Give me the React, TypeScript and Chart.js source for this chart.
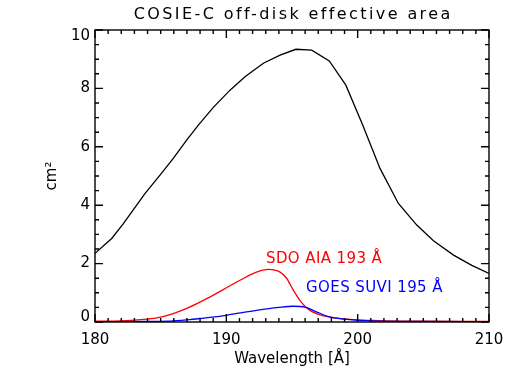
import React, { useEffect, useRef } from "react";
import { Chart, registerables } from "chart.js";

Chart.register(...registerables);

// COSIE-C off-disk effective area (cm^2) vs wavelength (Å)
const blackX = [180, 181.27, 182.16, 182.9, 183.8, 184.95, 185.96, 186.98, 187.87, 189.01, 190.28, 191.42, 192.82, 194.09, 195.3, 196.5, 197.84, 199.1, 200.39, 201.7, 203.1, 204.5, 205.77, 207.3, 208.69, 210];
const blackY = [2.35, 2.86, 3.37, 3.83, 4.4, 5.03, 5.6, 6.23, 6.74, 7.35, 7.94, 8.4, 8.86, 9.14, 9.34, 9.31, 8.94, 8.11, 6.74, 5.26, 4.06, 3.32, 2.78, 2.29, 1.94, 1.66];

// SDO AIA 193 Å
const redX = [180, 182, 183.5, 184.7, 185.96, 187.2, 188.5, 189.77, 191.04, 192.3, 193.2, 194.09, 194.6, 195.1, 195.6, 196.1, 196.6, 197.4, 198.15, 199.7, 201.5, 205, 210];
const redY = [0.03, 0.04, 0.08, 0.14, 0.29, 0.51, 0.8, 1.11, 1.43, 1.71, 1.8, 1.71, 1.49, 1.09, 0.74, 0.49, 0.34, 0.21, 0.15, 0.08, 0.05, 0.03, 0.02];

// GOES SUVI 195 Å
const blueX = [180, 184, 186, 187.2, 188, 190, 192.3, 194, 195.1, 196, 196.9, 197.9, 199.2, 201, 205, 210];
const blueY = [0.01, 0.02, 0.04, 0.08, 0.12, 0.23, 0.4, 0.5, 0.54, 0.51, 0.34, 0.17, 0.09, 0.04, 0.02, 0.01];

const xMin = 180;
const xMax = 210;
const xStep = 10;
const xMinorStep = 1;
const yMin = 0;
const yMax = 10;
const yStep = 2;
const yMinorStep = 0.5;

const titleText = "COSIE-C off-disk effective area";
const xLabel = "Wavelength [Å]";
const yLabel = "cm²";
const labelAIA = "SDO AIA 193 Å";
const labelAIAPos = [193.02, 2.17];
const labelSUVI = "GOES SUVI 195 Å";
const labelSUVIPos = [196.07, 1.15];

const FONT = '"DejaVu Sans", sans-serif';

function pts(xs: number[], ys: number[]) {
  return xs.map((x, i) => ({ x, y: ys[i] }));
}

const decorPlugin = {
  id: "decor",
  afterDraw(chart: any) {
    const ctx: CanvasRenderingContext2D = chart.ctx;
    const area = chart.chartArea;
    const xs = chart.scales.x;
    const ys = chart.scales.y;
    ctx.save();
    ctx.strokeStyle = "#000";
    ctx.lineWidth = 1.4;
    ctx.strokeRect(area.left, area.top, area.right - area.left, area.bottom - area.top);

    const major = 8;
    const minor = 4;
    ctx.beginPath();
    for (let v = xMin; v <= xMax + 1e-9; v += xMinorStep) {
      const isMajor = Math.abs(((v - xMin) / xStep) - Math.round((v - xMin) / xStep)) < 1e-6;
      const len = isMajor ? major : minor;
      const px = xs.getPixelForValue(v);
      ctx.moveTo(px, area.bottom);
      ctx.lineTo(px, area.bottom - len);
      ctx.moveTo(px, area.top);
      ctx.lineTo(px, area.top + len);
    }
    for (let v = yMin; v <= yMax + 1e-9; v += yMinorStep) {
      const isMajor = Math.abs(((v - yMin) / yStep) - Math.round((v - yMin) / yStep)) < 1e-6;
      const len = isMajor ? major : minor;
      const py = ys.getPixelForValue(v);
      ctx.moveTo(area.left, py);
      ctx.lineTo(area.left + len, py);
      ctx.moveTo(area.right, py);
      ctx.lineTo(area.right - len, py);
    }
    ctx.stroke();

    ctx.fillStyle = "#000";
    ctx.font = `15px ${FONT}`;
    ctx.textBaseline = "middle";
    // x tick labels
    ctx.textAlign = "center";
    for (const t of xs.ticks) {
      ctx.fillText(String(t.value), xs.getPixelForValue(t.value), area.bottom + 18.5);
    }
    // y tick labels
    ctx.textAlign = "right";
    for (const t of ys.ticks) {
      let py = ys.getPixelForValue(t.value);
      py = Math.min(Math.max(py, area.top + 5.7), area.bottom - 5.3);
      ctx.fillText(String(t.value), area.left - 5, py);
    }
    // x axis title
    ctx.textAlign = "center";
    ctx.fillText(xLabel, (area.left + area.right) / 2, area.bottom + 37.5);
    // y axis title
    ctx.save();
    ctx.translate(area.left - 43, (area.top + area.bottom) / 2);
    ctx.rotate(-Math.PI / 2);
    ctx.fillText(yLabel, 0, 0);
    ctx.restore();
    // title
    ctx.font = `16px ${FONT}`;
    (ctx as any).letterSpacing = "2.4px";
    ctx.fillText(titleText, (area.left + area.right) / 2 + 1.2, 15);
    ctx.font = `15px ${FONT}`;
    (ctx as any).letterSpacing = "0.4px";
    // annotations
    ctx.textAlign = "left";
    ctx.fillStyle = "#ff0000";
    ctx.fillText(labelAIA, xs.getPixelForValue(labelAIAPos[0]), ys.getPixelForValue(labelAIAPos[1]));
    ctx.fillStyle = "#0000ff";
    ctx.fillText(labelSUVI, xs.getPixelForValue(labelSUVIPos[0]), ys.getPixelForValue(labelSUVIPos[1]));
    (ctx as any).letterSpacing = "0px";
    ctx.restore();
  },
};

export default function App() {
  const ref = useRef<HTMLCanvasElement | null>(null);
  useEffect(() => {
    if (!ref.current) return;
    const chart = new Chart(ref.current, {
      type: "line",
      data: {
        datasets: [
          { data: pts(blackX, blackY), borderColor: "#000000", borderWidth: 1.3, pointRadius: 0, tension: 0 },
          { data: pts(blueX, blueY), borderColor: "#0000ff", borderWidth: 1.3, pointRadius: 0, cubicInterpolationMode: "monotone" },
          { data: pts(redX, redY), borderColor: "#ff0000", borderWidth: 1.3, pointRadius: 0, cubicInterpolationMode: "monotone" },
        ] as any,
      },
      options: {
        responsive: false,
        animation: false,
        devicePixelRatio: 1,
        events: [],
        layout: { padding: { left: 95, right: 29, top: 30, bottom: 60 } },
        plugins: { legend: { display: false }, tooltip: { enabled: false }, title: { display: false } },
        scales: {
          x: {
            type: "linear",
            min: xMin,
            max: xMax,
            ticks: { display: false, stepSize: xStep },
            grid: { display: false, drawTicks: false },
            border: { display: false },
          },
          y: {
            type: "linear",
            min: yMin,
            max: yMax,
            ticks: { display: false, stepSize: yStep },
            grid: { display: false, drawTicks: false },
            border: { display: false },
          },
        },
      },
      plugins: [decorPlugin],
    });
    return () => chart.destroy();
  }, []);
  return (
    <div style={{ position: "fixed", left: 0, top: 0, width: 518, height: 382, background: "#fff" }}>
      <canvas ref={ref} width={518} height={382} style={{ display: "block" }} />
    </div>
  );
}
